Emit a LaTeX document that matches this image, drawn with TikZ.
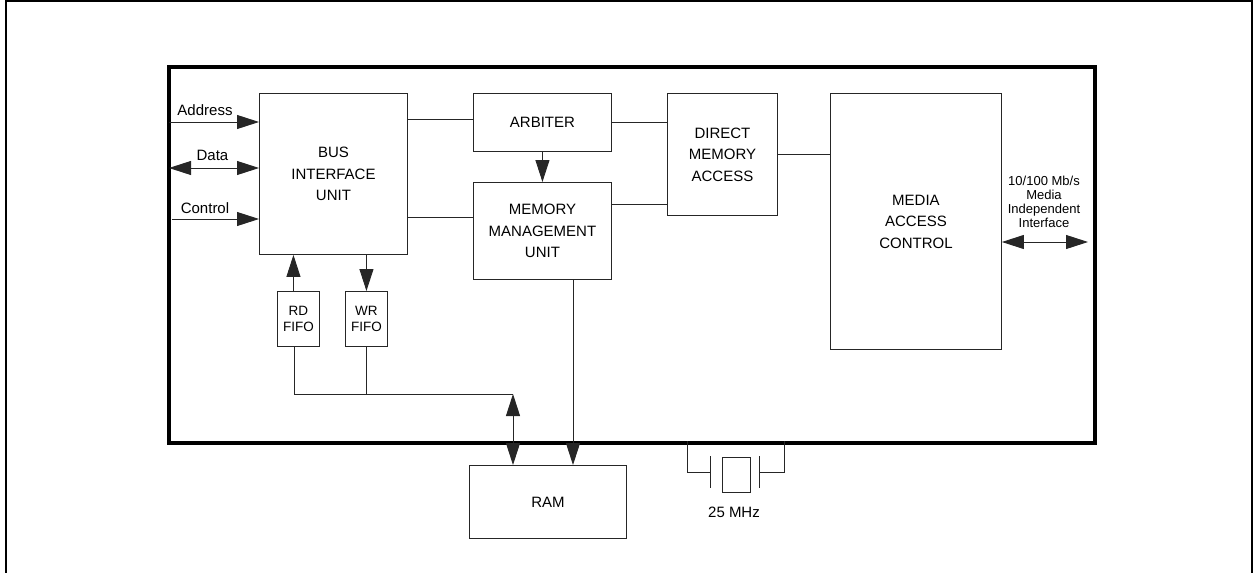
\documentclass[tikz,border=0pt]{standalone}
\usepackage{fontspec}
\setmainfont{Liberation Sans}
\usetikzlibrary{arrows.meta}

\tikzset{
  blk/.style={draw=black!85, line width=0.9pt, inner sep=0pt, anchor=north west, align=center, font=\fontsize{15}{21.5}\selectfont},
  fifo/.style={blk, font=\fontsize{13.5}{15.5}\selectfont},
  lbl/.style={inner sep=0pt, font=\fontsize{15}{17}\selectfont},
  wire/.style={draw=black!85, line width=0.9pt},
  >={Triangle[length=22pt,width=14pt]},
}

\begin{document}
\begin{tikzpicture}[x=1pt, y=-1pt]
  \useasboundingbox (0,0) rectangle (1254,573);
  % page frame
  \draw[line width=2pt] (6,573) -- (6,1) -- (1252,1) -- (1252,573);
  % chip outline
  \node[draw, line width=4pt, anchor=north west, minimum width=926pt, minimum height=376pt, inner sep=0pt] (chip) at (167,65) {};

  % blocks
  \node[blk, minimum width=148pt, minimum height=161pt] (biu) at (259,93) {BUS\\INTERFACE\\UNIT};
  \node[blk, minimum width=138pt, minimum height=58pt] (arb) at (473,93) {ARBITER};
  \node[blk, minimum width=138pt, minimum height=97pt] (mmu) at (473,182) {MEMORY\\MANAGEMENT\\UNIT};
  \node[blk, minimum width=110pt, minimum height=122pt] (dma) at (667,93) {DIRECT\\MEMORY\\ACCESS};
  \node[blk, minimum width=171pt, minimum height=256pt] (mac) at (830,93) {MEDIA\\ACCESS\\CONTROL};
  \node[fifo, minimum width=42pt, minimum height=55pt] (rd) at (277,291) {RD\\FIFO};
  \node[fifo, minimum width=42pt, minimum height=55pt] (wr) at (345,291) {WR\\FIFO};
  \node[blk, minimum width=157pt, minimum height=73pt] (ram) at (469,465) {RAM};

  % host side
  \coordinate (addr) at (169,122);
  \coordinate (data) at (169,168);
  \coordinate (ctrl) at (172,219);
  \draw[wire,->] (addr) -- (addr -| biu.west);
  \draw[wire,<->] (data) -- (data -| biu.west);
  \draw[wire,->] (ctrl) -- (ctrl -| biu.west);
  \node[lbl] (addrlbl) at (205,110.5) {Address};
  \node[lbl] (datalbl) at (212.5,155) {Data};
  \node[lbl] (ctrllbl) at (205,208.5) {Control};

  % internal links
  \draw[wire] ([yshift=3pt]arb.west) -- ([yshift=3pt]arb.west -| biu.east);
  \draw[wire] (mmu.west |- 0,217) -- (biu.east |- 0,217);
  \draw[wire,->] (arb.south) -- (mmu.north);
  \draw[wire] (arb.east) -- (arb.east -| dma.west);
  \draw[wire] (mmu.east |- 0,204) -- (dma.west |- 0,204);
  \draw[wire] (dma.east) -- (dma.east -| mac.west);

  % MII
  \coordinate (mii) at (1088,242);
  \draw[wire,<->] (mac.east |- mii) -- (mii);
  \node[lbl, font=\fontsize{13}{13.8}\selectfont, align=center] (miilbl) at (1044,202) {10/100 Mb/s\\Media\\Independent\\Interface};

  % fifos and RAM
  \draw[wire,->] ([xshift=-5pt]rd.north) -- ([xshift=-5pt]rd.north |- biu.south);
  \draw[wire,->] (wr.north |- biu.south) -- (wr.north);
  \coordinate (bus) at (513,394);
  \draw[wire] ([xshift=-4pt]rd.south) |- (bus);
  \draw[wire] (wr.south) -- (wr.south |- bus);
  \draw[wire,<->] (bus) -- (bus |- ram.north);
  \draw[wire,->] (mmu.south -| 573,0) -- (ram.north -| 573,0);

  % crystal
  \coordinate (xl) at (687,441);
  \coordinate (xr) at (784,441);
  \draw[wire] (xl) |- (710,472);
  \draw[wire] (710,456) -- (710,488);
  \node[draw=black!85, line width=0.9pt, inner sep=0pt, anchor=north west, minimum width=28pt, minimum height=35pt] (xtal) at (722,457) {};
  \draw[wire] (759,456) -- (759,488);
  \draw[wire] (xr) |- (759,472);
  \node[lbl] (xlbl) at (734,512) {25 MHz};
\end{tikzpicture}
\end{document}
